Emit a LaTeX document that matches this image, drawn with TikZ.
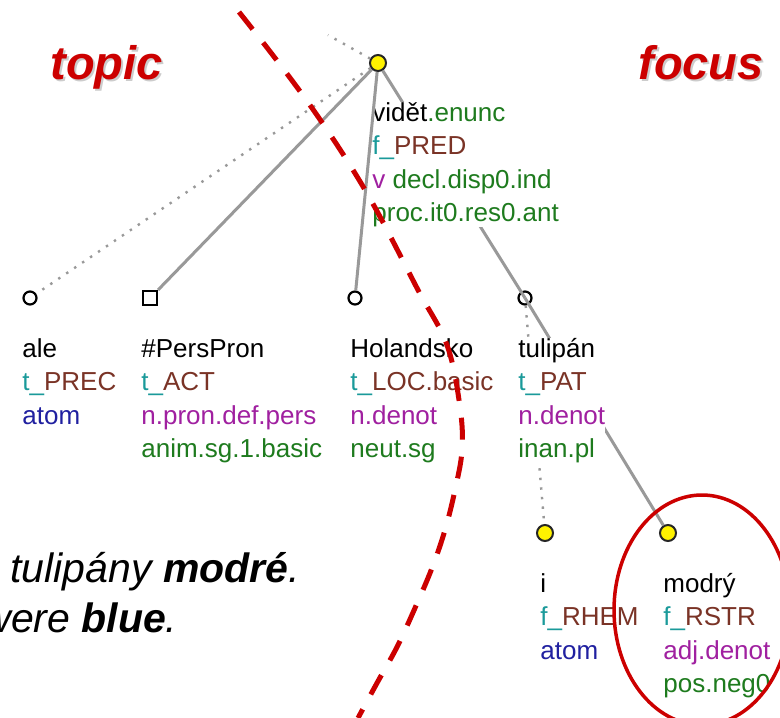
\documentclass[tikz,border=0pt]{standalone}
\usepackage{fontspec}
\setmainfont{Liberation Sans}
\usetikzlibrary{shapes.geometric}
\definecolor{tgreen}{HTML}{1E7B1E}
\definecolor{tteal}{HTML}{1A9A9A}
\definecolor{tbrown}{HTML}{7A3326}
\definecolor{tpurple}{HTML}{A020A0}
\definecolor{tblue}{HTML}{2020A0}
\definecolor{tred}{HTML}{CC0000}
\definecolor{linegray}{HTML}{999999}
\newcommand{\Cg}[1]{\textcolor{tgreen}{#1}}
\newcommand{\Ct}[1]{\textcolor{tteal}{#1}}
\newcommand{\Cb}[1]{\textcolor{tbrown}{#1}}
\newcommand{\Cp}[1]{\textcolor{tpurple}{#1}}
\newcommand{\Cbl}[1]{\textcolor{tblue}{#1}}
\tikzset{
  opennode/.style={circle,draw=black,line width=1.1pt,minimum size=6.5pt,inner sep=0pt},
  yelnode/.style={circle,draw=black!85,fill=yellow,line width=1pt,minimum size=8pt,inner sep=0pt},
  sqnode/.style={rectangle,draw=black,line width=1.1pt,minimum size=7pt,inner sep=0pt},
  treeedge/.style={draw=linegray,line width=1.5pt},
  dotedge/.style={draw=linegray,line width=1.2pt,dash pattern=on 1.2pt off 3.6pt},
  lbl/.style={anchor=base west,align=left,inner sep=0pt,fill=white,
    font=\fontsize{13}{16.75}\selectfont},
  bigword/.style={anchor=base west,inner sep=0pt,text=tred,
    font=\fontsize{23.5}{28}\selectfont\bfseries\itshape},
  shadowword/.style={anchor=base west,inner sep=0pt,text=black,opacity=0.2,
    font=\fontsize{23.5}{28}\selectfont\bfseries\itshape},
  sentence/.style={anchor=base west,inner sep=0pt,
    font=\fontsize{20.5}{24}\selectfont\itshape},
  redline/.style={draw=tred,line width=2.5pt,dash pattern=on 11pt off 8.5pt},
  redring/.style={draw=tred,line width=1.75pt}
}
\begin{document}
\begin{tikzpicture}[x=0.5pt,y=-0.5pt]
\useasboundingbox (0,0) rectangle (780,717);
\clip (0,0) rectangle (780,717);
\fill[white] (0,0) rectangle (780,717);

% tree nodes
\node[yelnode] (top) at (378,63) {};
\node[opennode] (ale) at (30,298) {};
\node[sqnode] (pers) at (150,298) {};
\node[opennode] (hol) at (355,298) {};
\node[opennode] (tul) at (525,298) {};
\node[yelnode] (ii) at (545,533) {};
\node[yelnode] (modry) at (668,533) {};
\coordinate (up) at (328,35);

% edges hidden behind labels
\draw[treeedge] (top) -- (tul.center);
\draw[treeedge] (tul.center) -- (modry);
\draw[dotedge] (tul) -- (ii);

% labels (anchor = baseline of the last line)
\node[lbl] (Ltop) at (372,221.5) {vidět\Cg{.enunc}\\ \Ct{f\_}\Cb{PRED}\\ \Cp{v} \Cg{decl.disp0.ind}\\ \Cg{proc.it0.res0.ant}};
\node[lbl] (Lale) at (22,424) {ale\\ \Ct{t\_}\Cb{PREC}\\ \Cbl{atom}};
\node[lbl] (Lpers) at (141,457.5) {\#PersPron\\ \Ct{t\_}\Cb{ACT}\\ \Cp{n.pron.def.pers}\\ \Cg{anim.sg.1.basic}};
\node[lbl] (Lhol) at (350,457.5) {Holandsko\\ \Ct{t\_}\Cb{LOC.basic}\\ \Cp{n.denot}\\ \Cg{neut.sg}};
\node[lbl] (Ltul) at (518,457.5) {tulipán\\ \Ct{t\_}\Cb{PAT}\\ \Cp{n.denot}\\ \Cg{inan.pl}};
\node[lbl] (Lii) at (540,659) {i\\ \Ct{f\_}\Cb{RHEM}\\ \Cbl{atom}};
\node[lbl] (Lmodry) at (663,692.5) {modrý\\ \Ct{f\_}\Cb{RSTR}\\ \Cp{adj.denot}\\ \Cg{pos.neg0}};

% visible edges
\draw[dotedge] (top) -- (up);
\draw[dotedge] (top) -- (ale);
\draw[treeedge] (top) -- (pers.north east);
\draw[treeedge] (top) -- (hol);

% topic / focus
\node[shadowword] (topicS) at (52,82) {topic};
\node[bigword] (topic) at (50,80) {topic};
\node[shadowword] (focusS) at (640,82) {focus};
\node[bigword] (focus) at (638,80) {focus};

% sentence
\node[sentence] (sent1) at (10,582) {tulipány \textbf{modré}.};
\node[sentence] (sent2) at (-19,632) {were \textbf{blue}.};

% red marks
\draw[redline] plot[smooth,tension=0.6] coordinates {(239,12) (275,58) (312,108) (348,162) (378,213) (418,290) (447,345) (460,407) (462,450) (455,490) (445,530) (432,568) (415,608) (397,647) (377,683) (358,718)};
\draw[redring] (702,610) ellipse [x radius=88, y radius=115];
\end{tikzpicture}
\end{document}
